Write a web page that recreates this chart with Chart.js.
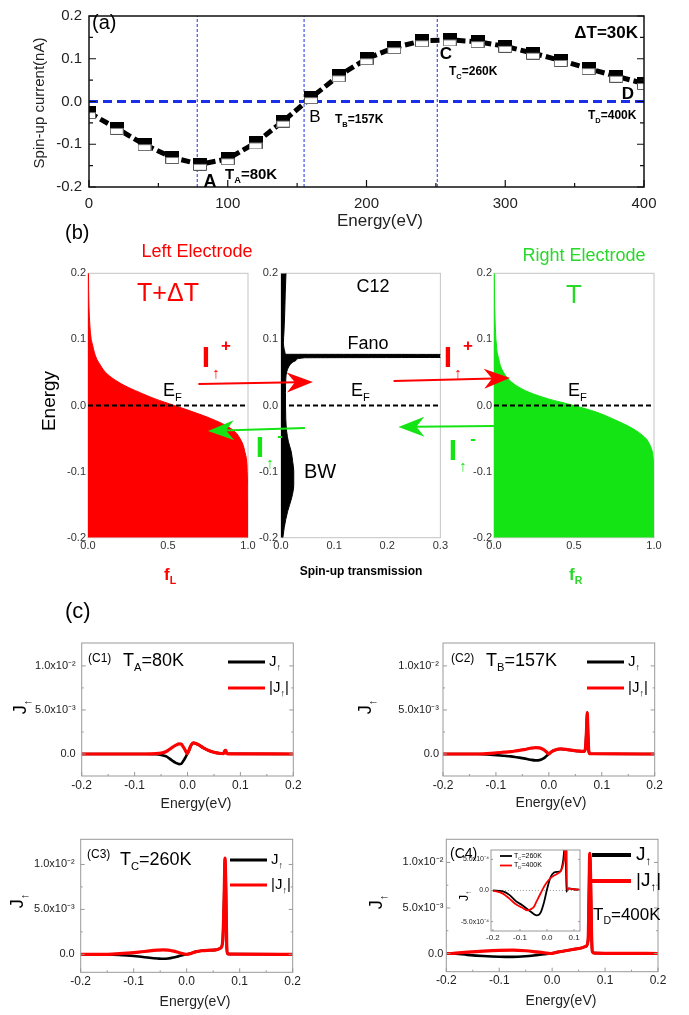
<!DOCTYPE html>
<html>
<head>
<meta charset="utf-8">
<title>Spin-up current and transmission</title>
<script src="https://cdn.jsdelivr.net/npm/chart.js@4.4.1/dist/chart.umd.min.js"></script>
<style>
  html, body { margin: 0; padding: 0; background: #fff; }
  #page { position: relative; width: 689px; height: 1015px; overflow: hidden; }
  #page canvas { position: absolute; }
</style>
</head>
<body>
<div id="page">
  <canvas id="cA" width="689" height="235" style="left:0px;top:0px"></canvas>
  <canvas id="cBL" width="230" height="300" style="left:28px;top:262px"></canvas>
  <canvas id="cBM" width="195" height="300" style="left:255px;top:262px"></canvas>
  <canvas id="cBR" width="215" height="300" style="left:450px;top:262px"></canvas>
  <canvas id="cC1" width="310" height="185" style="left:0px;top:630px"></canvas>
  <canvas id="cC2" width="330" height="185" style="left:344px;top:630px"></canvas>
  <canvas id="cC3" width="310" height="189" style="left:0px;top:826px"></canvas>
  <canvas id="cC4" width="330" height="189" style="left:344px;top:826px"></canvas>
  <canvas id="cIn" width="150" height="105" style="left:440px;top:840px"></canvas>
  <canvas id="overlay" width="689" height="1015" style="left:0px;top:0px"></canvas>
</div>
<script>
const SANS = '"Liberation Sans", Arial, Helvetica, sans-serif';
const RED = '#ff0000';
const GREEN = '#14e414';
const GREEN_TEXT = '#2ad82a';
const BLUE = '#1c2fe8';

// (a) spin-up current against temperature (centre of each half-filled marker)
const aT = [0, 20, 40, 60, 80, 100, 120, 140, 160, 180, 200, 220, 240, 260, 280, 300, 320, 340, 360, 380, 400];
const aSpinUp = [-0.026, -0.063, -0.101, -0.131, -0.147, -0.134, -0.097, -0.046, 0.009, 0.060, 0.100, 0.126, 0.142, 0.144, 0.140, 0.129, 0.113, 0.096, 0.077, 0.059, 0.042];
const aMarkT = [78, 155, 251];
const aXTicks = [0, 100, 200, 300, 400];
const aYTicks = [-0.2, -0.1, 0, 0.1, 0.2];

// (b) Fermi functions of the electrodes and the transmission of C12
const bE = [0.2, 0.15, 0.12, 0.1, 0.09, 0.08, 0.07, 0.06, 0.05, 0.04, 0.03, 0.02, 0.01, 0, -0.01, -0.02, -0.03, -0.04, -0.05, -0.06, -0.07, -0.08, -0.1, -0.15, -0.2];
const bFermiL = [0.003, 0.006, 0.012, 0.02, 0.03, 0.04, 0.055, 0.08, 0.11, 0.16, 0.23, 0.32, 0.42, 0.54, 0.66, 0.77, 0.86, 0.92, 0.95, 0.97, 0.98, 0.99, 0.995, 1, 1];
const bFermiR = [0.002, 0.004, 0.008, 0.012, 0.016, 0.02, 0.03, 0.04, 0.06, 0.09, 0.14, 0.22, 0.34, 0.5, 0.64, 0.74, 0.83, 0.9, 0.95, 0.975, 0.99, 0.995, 1, 1, 1];
const bTransE = [0.2, 0.17, 0.14, 0.11, 0.095, 0.085, 0.08, 0.0775, 0.0772, 0.0728, 0.0722, 0.069, 0.0655, 0.0616, 0.0516, 0.04, 0.02, 0, -0.02, -0.039, -0.055, -0.069, -0.085, -0.099, -0.12, -0.14, -0.16, -0.185, -0.2];
const bTrans = [0.0094, 0.008, 0.007, 0.0055, 0.0045, 0.006, 0.0075, 0.01, 0.35, 0.35, 0.045, 0.029, 0.022, 0.017, 0.011, 0.009, 0.0085, 0.0085, 0.009, 0.0106, 0.014, 0.019, 0.022, 0.024, 0.024, 0.02, 0.0125, 0.006, 0.0035];
const bYTicks = [-0.2, -0.1, 0, 0.1, 0.2];
const bFermiTicks = [0, 0.5, 1];
const bTransTicks = [0, 0.1, 0.2, 0.3];

// (c) spin-up current spectra at the four temperatures
const c1E = [-0.2, -0.08, -0.06, -0.05, -0.04, -0.03, -0.022, -0.016, -0.012, -0.008, -0.004, -0.001, 0.002, 0.006, 0.011, 0.016, 0.022, 0.03, 0.04, 0.05, 0.06, 0.068, 0.071, 0.0725, 0.074, 0.078, 0.2];
const c1J = [0, 0, -0.00003, -0.0001, -0.00028, -0.0007, -0.001, -0.00115, -0.00112, -0.0008, -0.0004, -0.00005, 0.0003, 0.0009, 0.00125, 0.0012, 0.001, 0.0007, 0.0004, 0.0002, 0.00008, 0.00005, 0.0004, 0.0004, 0.00005, 0.00002, 0];
const c1Abs = [0, 0, 0.00003, 0.0001, 0.00028, 0.0007, 0.001, 0.00115, 0.00112, 0.0008, 0.0004, 0.00005, 0.0003, 0.0009, 0.00125, 0.0012, 0.001, 0.0007, 0.0004, 0.0002, 0.00008, 0.00005, 0.0004, 0.0004, 0.00005, 0.00002, 0];

const c2E = [-0.2, -0.135, -0.104, -0.085, -0.072, -0.06, -0.047, -0.035, -0.025, -0.018, -0.01, -0.004, 0, 0.005, 0.012, 0.022, 0.032, 0.045, 0.058, 0.066, 0.069, 0.071, 0.0725, 0.074, 0.0755, 0.078, 0.2];
const c2J = [0, 0, -0.0001, -0.0002, -0.00027, -0.00038, -0.0005, -0.00065, -0.00073, -0.0007, -0.0005, -0.0002, 0, 0.00025, 0.00045, 0.00057, 0.00052, 0.0004, 0.00032, 0.0003, 0.0006, 0.0025, 0.0047, 0.0022, 0.0003, 0.00003, 0];
const c2Abs = [0, 0, 0.0001, 0.0002, 0.00027, 0.00038, 0.0005, 0.00065, 0.00073, 0.0007, 0.0005, 0.0002, 0, 0.00025, 0.00045, 0.00057, 0.00052, 0.0004, 0.00032, 0.0003, 0.0006, 0.0025, 0.0047, 0.0022, 0.0003, 0.00003, 0];

const c3E = [-0.2, -0.15, -0.12, -0.09, -0.07, -0.055, -0.045, -0.035, -0.025, -0.015, -0.006, 0, 0.008, 0.018, 0.028, 0.04, 0.055, 0.064, 0.068, 0.0705, 0.0723, 0.074, 0.0755, 0.077, 0.08, 0.2];
const c3J = [0, 0, -0.0001, -0.00025, -0.00038, -0.00046, -0.0005, -0.00047, -0.00036, -0.0002, -0.00006, 0, 0.0001, 0.0003, 0.0004, 0.00045, 0.0005, 0.0007, 0.0015, 0.006, 0.0107, 0.007, 0.001, 0.0001, 0.00003, 0];
const c3Abs = [0, 0, 0.0001, 0.00025, 0.00038, 0.00046, 0.0005, 0.00047, 0.00036, 0.0002, 0.00006, 0, 0.0001, 0.0003, 0.0004, 0.00045, 0.0005, 0.0007, 0.0015, 0.006, 0.0107, 0.007, 0.001, 0.0001, 0.00003, 0];

const c4E = [-0.2, -0.19, -0.16, -0.13, -0.1, -0.075, -0.05, -0.03, -0.015, -0.003, 0.01, 0.025, 0.04, 0.055, 0.064, 0.068, 0.0695, 0.071, 0.0728, 0.0745, 0.076, 0.08, 0.2];
const c4J = [0, 0, -0.00015, -0.00027, -0.00035, -0.00037, -0.0003, -0.00018, -0.00008, 0, 0.00015, 0.0003, 0.00045, 0.0006, 0.0008, 0.0015, 0.006, 0.011, 0.008, 0.002, 0.0002, 0.00005, 0];
const c4Abs = [0, 0, 0.00015, 0.00027, 0.00035, 0.00037, 0.0003, 0.00018, 0.00008, 0, 0.00015, 0.0003, 0.00045, 0.0006, 0.0008, 0.0015, 0.006, 0.011, 0.008, 0.002, 0.0002, 0.00005, 0];

const cXTicks = [-0.2, -0.1, 0, 0.1, 0.2];
const cYTicks = [0, 0.005, 0.01];
const cYLabels = ['0.0', '5.0x10\u207B\u00B3', '1.0x10\u207B\u00B2'];

// inset of (C4): T_C=260K against T_D=400K
const inE = [-0.2, -0.163, -0.139, -0.115, -0.09, -0.072, -0.06, -0.048, -0.038, -0.023, -0.011, 0.001, 0.013, 0.026, 0.038, 0.05, 0.056, 0.062, 0.066, 0.068, 0.0695, 0.0715, 0.074, 0.08, 0.099, 0.125];
const inJC = [0, -0.000015, -0.00007, -0.00017, -0.00024, -0.0003, -0.00034, -0.00038, -0.0004, -0.00035, -0.00019, 0.000035, 0.00021, 0.00029, 0.0003, 0.00031, 0.00039, 0.00057, 0.0009, 0.0015, 0.0008, -0.00002, 0.00001, 0.000035, 0.00002, 0.00001];
const inJD = [0, -0.00005, -0.00013, -0.00022, -0.00028, -0.00032, -0.0003, -0.00026, -0.00017, -0.00004, 0.00006, 0.00014, 0.0002, 0.00024, 0.00027, 0.00031, 0.00036, 0.00046, 0.0006, 0.0009, 0.0016, 0.0012, 0, 0.000035, 0.00002, 0.00001];
const inXTicks = [-0.2, -0.1, 0, 0.1];
const inYTicks = [-0.0005, 0, 0.0005];
const inYLabels = ['-5.0x10\u207B\u2074', '0.0', '5.0x10\u207B\u2074'];

function pts(xs, ys) {
  return xs.map(function (x, i) { return {x: x, y: ys[i]}; });
}

function fmt1(v) {
  return Math.abs(v) < 1e-9 ? '0.0' : v.toFixed(1);
}

function axis(o) {
  return {
    type: 'linear',
    min: o.min,
    max: o.max,
    grid: {display: false, drawTicks: false},
    border: {display: false},
    afterFit: function (s) {
      if (s.isHorizontal()) s.height = o.size; else s.width = o.size;
    },
    afterBuildTicks: function (s) {
      s.ticks = o.ticks.map(function (v) { return {value: v}; });
    },
    ticks: {
      padding: o.pad,
      color: o.color || '#222',
      font: {family: SANS, size: o.font},
      maxRotation: 0,
      minRotation: 0,
      autoSkip: false,
      callback: function (v, i) {
        if (o.labels) return o.labels[i];
        return o.fmt ? o.fmt(v) : fmt1(v);
      }
    }
  };
}

// frame round the plot area and ticks pointing inward
const frameTicks = {
  id: 'frameTicks',
  beforeDatasetsDraw: function (chart, args, o) {
    if (o && o.under) drawFrame(chart, o);
  },
  afterDatasetsDraw: function (chart, args, o) {
    if (o && o.frameColor && !o.under) drawFrame(chart, o);
  }
};

function drawFrame(chart, o) {
  const ctx = chart.ctx, a = chart.chartArea;
  const sx = chart.scales.x, sy = chart.scales.y;
  const mids = function (vs) { return vs.slice(1).map(function (v, i) { return (v + vs[i]) / 2; }); };
  const xs = sx.ticks.map(function (t) { return t.value; });
  const ys = sy.ticks.map(function (t) { return t.value; });
  ctx.save();
  if (o.major) {
    ctx.strokeStyle = o.tickColor;
    ctx.lineWidth = o.tickWidth;
    ctx.beginPath();
    [[xs, o.major], [mids(xs), o.minor]].forEach(function (pair) {
      pair[0].forEach(function (v) {
        const p = sx.getPixelForValue(v);
        ctx.moveTo(p, a.bottom); ctx.lineTo(p, a.bottom - pair[1]);
      });
    });
    [[ys, o.major], [mids(ys), o.minor]].forEach(function (pair) {
      pair[0].forEach(function (v) {
        const p = sy.getPixelForValue(v);
        ctx.moveTo(a.left, p); ctx.lineTo(a.left + pair[1], p);
        ctx.moveTo(a.right, p); ctx.lineTo(a.right - pair[1], p);
      });
    });
    ctx.stroke();
  }
  ctx.strokeStyle = o.frameColor;
  ctx.lineWidth = o.frameWidth;
  ctx.strokeRect(a.left, a.top, a.right - a.left, a.bottom - a.top);
  ctx.restore();
}

const paperBg = {
  id: 'paperBg',
  beforeDatasetsDraw: function (chart, args, o) {
    if (!o || !o.color) return;
    const a = chart.chartArea;
    chart.ctx.save();
    chart.ctx.fillStyle = o.color;
    chart.ctx.fillRect(a.left, a.top, a.right - a.left, a.bottom - a.top);
    chart.ctx.restore();
  }
};

Chart.register(frameTicks, paperBg);

function baseOptions(extra) {
  const o = {
    responsive: false,
    animation: false,
    events: [],
    layout: {autoPadding: false, padding: extra.padding},
    scales: extra.scales,
    plugins: {
      legend: {display: false},
      tooltip: {enabled: false},
      frameTicks: extra.frame,
      paperBg: extra.bg || {}
    }
  };
  if (extra.indexAxis) o.indexAxis = extra.indexAxis;
  return o;
}

// half-filled square marker: black top half, white bottom half
function halfSquare() {
  const c = document.createElement('canvas');
  c.width = 14;
  c.height = 13;
  const g = c.getContext('2d');
  g.fillStyle = '#fff';
  g.fillRect(0, 0, 14, 13);
  g.fillStyle = '#000';
  g.fillRect(0, 0, 14, 6.5);
  g.strokeStyle = '#555';
  g.lineWidth = 1;
  g.beginPath();
  g.moveTo(0.5, 6.5); g.lineTo(0.5, 12.5); g.lineTo(13.5, 12.5); g.lineTo(13.5, 6.5);
  g.stroke();
  return c;
}

// ---------- (a)
const chA = new Chart(document.getElementById('cA'), {
  type: 'scatter',
  data: {
    datasets: [
      {data: pts(aT, aSpinUp), showLine: true, borderColor: '#000', borderWidth: 5, borderDash: [9, 4],
        pointStyle: halfSquare(), pointRadius: 7, order: 0},
      {data: [{x: aT[0], y: 0}, {x: aT[aT.length - 1], y: 0}], showLine: true, borderColor: BLUE,
        borderWidth: 3, borderDash: [9, 5], pointRadius: 0, order: 2}
    ].concat(aMarkT.map(function (t) {
      return {data: [{x: t, y: aYTicks[0]}, {x: t, y: aYTicks[aYTicks.length - 1]}], showLine: true,
        borderColor: BLUE, borderWidth: 1, borderDash: [3, 2], pointRadius: 0, order: 3};
    }))
  },
  options: baseOptions({
    padding: {left: 0, right: 45, top: 13, bottom: 0},
    scales: {
      x: axis({min: 0, max: 400, ticks: aXTicks, size: 48, pad: 8, font: 15, fmt: String}),
      y: axis({min: -0.2, max: 0.2, ticks: aYTicks, size: 89, pad: 7, font: 15})
    },
    frame: {frameColor: '#111', frameWidth: 1.5, tickColor: '#111', tickWidth: 1.2, major: 7, minor: 4}
  })
});

// ---------- (b)
const bFrame = {frameColor: '#c4c4c4', frameWidth: 1, major: 0, under: true};

function zeroLine(xMax) {
  return {data: [{x: 0, y: 0}, {x: xMax, y: 0}], borderColor: '#000', borderWidth: 2,
    borderDash: [5, 3], pointRadius: 0, fill: false, order: 0};
}

function bChart(id, series, color, xMax, xTicks, yAxisWidth, padRight, yPad) {
  return new Chart(document.getElementById(id), {
    type: 'line',
    data: {
      datasets: [
        zeroLine(xMax),
        {data: series, borderColor: color, borderWidth: 1, backgroundColor: color, fill: 'origin',
          pointRadius: 0, cubicInterpolationMode: 'monotone', order: 1}
      ]
    },
    options: baseOptions({
      indexAxis: 'y',
      padding: {left: 0, right: padRight, top: 11.3, bottom: 0},
      scales: {
        x: axis({min: 0, max: xMax, ticks: xTicks, size: 24.3, pad: 2, font: 11, color: '#333'}),
        y: axis({min: -0.2, max: 0.2, ticks: bYTicks, size: yAxisWidth, pad: yPad, font: 11, color: '#333'})
      },
      frame: bFrame
    })
  });
}

const chBL = bChart('cBL', pts(bFermiL, bE), RED, 1, bFermiTicks, 60, 10, 2);
const chBM = bChart('cBM', pts(bTrans, bTransE), '#000', 0.3, bTransTicks, 26, 9, 3);
const chBR = bChart('cBR', pts(bFermiR, bE), GREEN, 1, bFermiTicks, 44, 11, 2);

// ---------- (c)
function cChart(id, E, J, A, cfg) {
  return new Chart(document.getElementById(id), {
    type: 'scatter',
    data: {
      datasets: [
        {data: pts(E, A), showLine: true, borderColor: RED, borderWidth: 3.2, pointRadius: 0,
          cubicInterpolationMode: 'monotone', order: 0},
        {data: pts(E, J), showLine: true, borderColor: '#000', borderWidth: 2.6, pointRadius: 0,
          cubicInterpolationMode: 'monotone', order: 1}
      ]
    },
    options: baseOptions({
      padding: {left: 0, right: cfg.right, top: cfg.top, bottom: 0},
      scales: {
        x: axis({min: -0.2, max: 0.2, ticks: cXTicks, size: cfg.xh, pad: 2, font: 12}),
        y: axis({min: cfg.ymin, max: cfg.ymax, ticks: cYTicks, labels: cYLabels, size: cfg.yw, pad: cfg.ypad, font: 11})
      },
      frame: {frameColor: '#999', frameWidth: 1, tickColor: '#999', tickWidth: 1, major: 4, minor: 2}
    })
  });
}

const chC1 = cChart('cC1', c1E, c1J, c1Abs, {right: 16.7, top: 13, xh: 39, yw: 81.7, ypad: 6, ymin: -0.0025, ymax: 0.0126});
const chC2 = cChart('cC2', c2E, c2J, c2Abs, {right: 19.3, top: 13, xh: 39, yw: 99, ypad: 4, ymin: -0.0025, ymax: 0.0126});
const chC3 = cChart('cC3', c3E, c3J, c3Abs, {right: 17.3, top: 13.3, xh: 42.7, yw: 80.7, ypad: 6, ymin: -0.002, ymax: 0.0128});
const chC4 = cChart('cC4', c4E, c4J, c4Abs, {right: 16, top: 13.3, xh: 43.3, yw: 102.3, ypad: 3, ymin: -0.002, ymax: 0.01254});

const chIn = new Chart(document.getElementById('cIn'), {
  type: 'scatter',
  data: {
    datasets: [
      {data: pts(inE, inJD), showLine: true, borderColor: RED, borderWidth: 1.8, pointRadius: 0,
        cubicInterpolationMode: 'monotone', order: 0},
      {data: pts(inE, inJC), showLine: true, borderColor: '#000', borderWidth: 1.8, pointRadius: 0,
        cubicInterpolationMode: 'monotone', order: 1},
      {data: [{x: inE[0], y: 0}, {x: inE[inE.length - 1], y: 0}], showLine: true, borderColor: '#999',
        borderWidth: 1, borderDash: [1, 2], pointRadius: 0, order: 2}
    ]
  },
  options: baseOptions({
    padding: {left: 0, right: 10, top: 10, bottom: 0},
    scales: {
      x: axis({min: -0.207, max: 0.122, ticks: inXTicks, size: 14, pad: 2, font: 8}),
      y: axis({min: -0.00065, max: 0.00065, ticks: inYTicks, labels: inYLabels, size: 51, pad: 2, font: 7})
    },
    frame: {frameColor: '#999', frameWidth: 1, tickColor: '#999', tickWidth: 1, major: 2, minor: 0},
    bg: {color: '#fff'}
  })
});

// ---------- annotations
const ov = document.getElementById('overlay').getContext('2d');

function rich(x, y, parts, o) {
  const size = o.size, weight = o.weight || 'normal';
  const segs = parts.map(function (p) {
    return typeof p === 'string' ? {t: p, k: ''} : {t: p[0], k: p[1]};
  });
  ov.save();
  ov.fillStyle = o.color || '#000';
  ov.textBaseline = 'middle';
  ov.textAlign = 'left';
  let total = 0;
  segs.forEach(function (s) {
    s.size = s.k ? size * 0.62 : size;
    ov.font = weight + ' ' + s.size + 'px ' + SANS;
    s.w = ov.measureText(s.t).width;
    total += s.w;
  });
  ov.translate(x, y);
  if (o.rotate) ov.rotate(o.rotate);
  let cx = o.align === 'center' ? -total / 2 : (o.align === 'right' ? -total : 0);
  segs.forEach(function (s) {
    ov.font = weight + ' ' + s.size + 'px ' + SANS;
    const dy = s.k === 'sub' ? size * 0.38 : (s.k === 'sup' ? -size * 0.38 : 0);
    ov.fillText(s.t, cx, dy);
    cx += s.w;
  });
  ov.restore();
}

function pageX(ch, v) { return ch.canvas.offsetLeft + ch.scales.x.getPixelForValue(v); }
function pageY(ch, v) { return ch.canvas.offsetTop + ch.scales.y.getPixelForValue(v); }

function arrow(from, to, color) {
  const x1 = pageX(from[0], from[1]), y1 = pageY(from[0], from[2]);
  const x2 = pageX(to[0], to[1]), y2 = pageY(to[0], to[2]);
  const ang = Math.atan2(y2 - y1, x2 - x1);
  ov.save();
  ov.strokeStyle = color;
  ov.fillStyle = color;
  ov.lineWidth = 2;
  ov.beginPath();
  ov.moveTo(x1, y1);
  ov.lineTo(x2 - 16 * Math.cos(ang), y2 - 16 * Math.sin(ang));
  ov.stroke();
  ov.translate(x2, y2);
  ov.rotate(ang);
  ov.beginPath();
  ov.moveTo(0, 0);
  ov.lineTo(-26, -10);
  ov.lineTo(-18, 0);
  ov.lineTo(-26, 10);
  ov.closePath();
  ov.fill();
  ov.restore();
}

function iLabel(x, y, color, sign) {
  rich(x, y, ['I'], {size: 30, weight: 'bold', color: color, align: 'center'});
  rich(x + 10, y + 15, ['\u2191'], {size: 15, color: color, align: 'center'});
  rich(x + 20, y - 13, [sign], {size: 17, weight: 'bold', color: color, align: 'center'});
}

const UP = '\u2191';
const ROT = -Math.PI / 2;

// (a)
rich(92, 23, ['(a)'], {size: 20});
rich(638, 33, ['\u0394T=30K'], {size: 17, weight: 'bold', align: 'right'});
rich(210, 182, ['A'], {size: 18, weight: 'bold', align: 'center'});
rich(225, 175, ['T', ['A', 'sub'], '=80K'], {size: 15, weight: 'bold'});
rich(315, 117, ['B'], {size: 17, align: 'center'});
rich(335, 120, ['T', ['B', 'sub'], '=157K'], {size: 12, weight: 'bold'});
rich(446, 54, ['C'], {size: 17, weight: 'bold', align: 'center'});
rich(449, 72, ['T', ['C', 'sub'], '=260K'], {size: 12, weight: 'bold'});
rich(628, 94, ['D'], {size: 17, weight: 'bold', align: 'center'});
rich(588, 116, ['T', ['D', 'sub'], '=400K'], {size: 12, weight: 'bold'});
rich(40, 103, ['Spin-up current(nA)'], {size: 15, rotate: ROT, align: 'center', color: '#222'});
rich(380, 221, ['Energy(eV)'], {size: 17, align: 'center', color: '#222'});

// (b)
rich(65, 233, ['(b)'], {size: 20});
rich(197, 252, ['Left Electrode'], {size: 18, color: RED, align: 'center'});
rich(584, 256, ['Right Electrode'], {size: 18, color: GREEN_TEXT, align: 'center'});
rich(168, 294, ['T+\u0394T'], {size: 25, color: RED, align: 'center'});
rich(373, 287, ['C12'], {size: 18, align: 'center'});
rich(574, 296, ['T'], {size: 26, color: GREEN_TEXT, align: 'center'});
rich(368, 344, ['Fano'], {size: 18, align: 'center'});
rich(163, 391, ['E', ['F', 'sub']], {size: 18});
rich(351, 391, ['E', ['F', 'sub']], {size: 18});
rich(568, 391, ['E', ['F', 'sub']], {size: 18});
rich(320, 472, ['BW'], {size: 20, align: 'center'});
rich(50, 401, ['Energy'], {size: 19, rotate: ROT, align: 'center'});
rich(164, 575, ['f', ['L', 'sub']], {size: 17, weight: 'bold', color: RED});
rich(361, 572, ['Spin-up transmission'], {size: 12, weight: 'bold', align: 'center'});
rich(569, 575, ['f', ['R', 'sub']], {size: 17, weight: 'bold', color: GREEN_TEXT});

arrow([chBL, 0.69, 0.0325], [chBM, 0.06, 0.0356], RED);
arrow([chBM, 0.212, 0.037], [chBR, 0.10, 0.0416], RED);
arrow([chBM, 0.045, -0.034], [chBL, 0.75, -0.0386], GREEN);
arrow([chBR, 0, -0.031], [chBM, 0.221, -0.0325], GREEN);
iLabel(206, 359, RED, '+');
iLabel(448, 359, RED, '+');
iLabel(260, 449, GREEN, '-');
iLabel(453, 452, GREEN, '-');

// (c)
rich(65, 612, ['(c)'], {size: 22});

function legend(ch, x1, x2, y1, y2, tx, size, lw) {
  const colors = [ch.data.datasets[1].borderColor, ch.data.datasets[0].borderColor];
  [[y1, colors[0], ['J', [UP, 'sub']]], [y2, colors[1], ['|J', [UP, 'sub'], '|']]].forEach(function (row) {
    ov.save();
    ov.strokeStyle = row[1];
    ov.lineWidth = lw;
    ov.beginPath();
    ov.moveTo(x1, row[0]);
    ov.lineTo(x2, row[0]);
    ov.stroke();
    ov.restore();
    rich(tx, row[0], row[2], {size: size});
  });
}

rich(88, 659, ['(C1)'], {size: 12});
rich(123, 661, ['T', ['A', 'sub'], '=80K'], {size: 18});
legend(chC1, 228, 265, 662, 688, 269, 15, 3);
rich(451, 659, ['(C2)'], {size: 12});
rich(486, 661, ['T', ['B', 'sub'], '=157K'], {size: 18});
legend(chC2, 587, 624, 662, 688, 628, 15, 3);
rich(87, 855, ['(C3)'], {size: 12});
rich(120, 860, ['T', ['C', 'sub'], '=260K'], {size: 18});
legend(chC3, 230, 267, 860, 885, 271, 15, 3);
rich(450, 854, ['(C4)'], {size: 14});
legend(chC4, 592, 631, 855, 881, 636, 19, 4);
rich(593, 915, ['T', ['D', 'sub'], '=400K'], {size: 17});

[[21, 707], [366, 707], [18, 901], [377, 902]].forEach(function (p) {
  rich(p[0], p[1], ['J', [UP, 'sub']], {size: 18, rotate: ROT, align: 'center'});
});
[[196, 804], [551, 803], [195, 1002], [561, 1001]].forEach(function (p) {
  rich(p[0], p[1], ['Energy(eV)'], {size: 14, align: 'center', color: '#222'});
});

// inset legend and axis title
[[856, chIn.data.datasets[1].borderColor, 'C', '=260K'], [865.5, chIn.data.datasets[0].borderColor, 'D', '=400K']].forEach(function (row) {
  ov.save();
  ov.strokeStyle = row[1];
  ov.lineWidth = 1.8;
  ov.beginPath();
  ov.moveTo(500, row[0]);
  ov.lineTo(512, row[0]);
  ov.stroke();
  ov.restore();
  rich(514, row[0], ['T', [row[2], 'sub'], row[3]], {size: 7});
});
rich(464, 896, ['J', [UP, 'sub']], {size: 13, rotate: ROT, align: 'center'});
</script>
</body>
</html>
